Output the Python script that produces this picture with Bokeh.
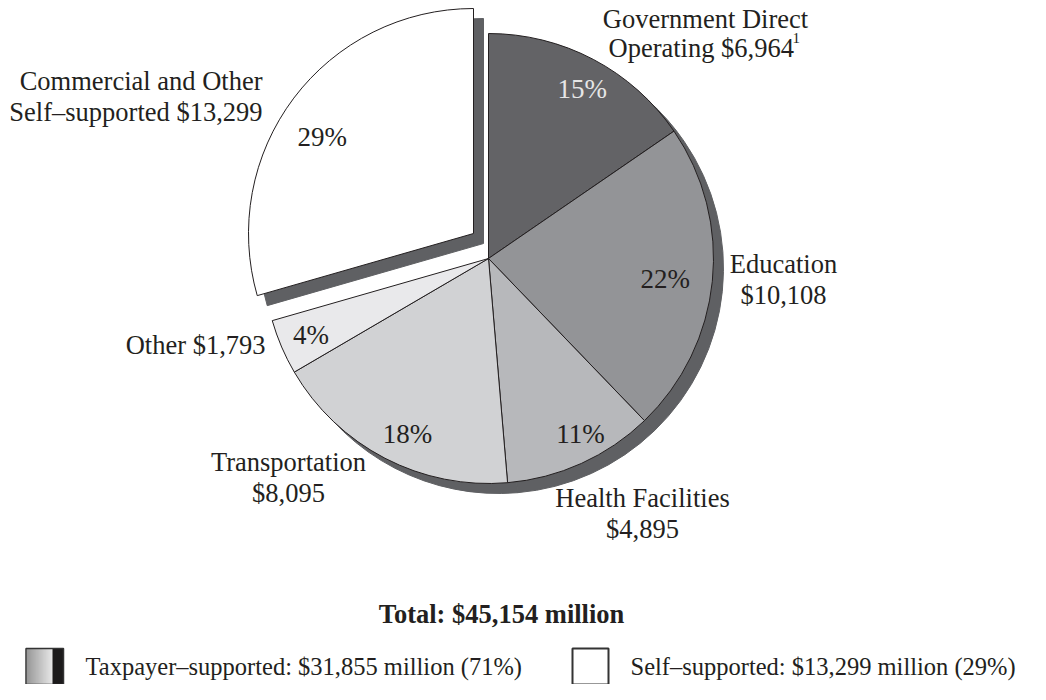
import numpy as np
from bokeh.plotting import figure
from bokeh.models import Range1d, ColumnDataSource
from bokeh.embed import file_html
from bokeh.resources import INLINE
from bokeh.core.properties import value

# ---------------- data ----------------
categories = ["Government Direct Operating", "Education", "Health Facilities",
              "Transportation", "Other", "Commercial and Other Self-supported"]
amounts = [6964, 10108, 4895, 8095, 1793, 13299]          # $ millions
pct_labels = ["15%", "22%", "11%", "18%", "4%", "29%"]
exploded = [False, False, False, False, False, True]
total_label = "Total: $45,154 million"
legend_labels = ["Taxpayer\u2013supported: $31,855 million (71%)",
                 "Self\u2013supported: $13,299 million (29%)"]

# ---------------- styles / layout ----------------
FONT = value("Liberation Serif")
TXT = "#231f20"
colors = ["#636366", "#939497", "#b7b8bb", "#d1d2d4", "#e9e9eb", "#ffffff"]
pct_colors = ["#e6e6e6", TXT, TXT, TXT, TXT, TXT]
label_r = [0.858, 0.791, 0.884, 0.862, 0.862, 0.796]
label_dtheta = [1.3, 1.0, -3.2, -2.7, -0.5, -4.6]   # degrees
SHADOW = "#5f6063"
BASE_SHIFT = 10   # rendered alphabetic baseline sits ~10px below anchor

W, H = 1030, 684


def Y(img_y):
    return H - img_y


def TY(img_baseline):
    return H - (img_baseline - BASE_SHIFT)


CX, CY, R = 488, Y(258), 225
EXPLODE = (-15, 25)
SHOFF = (10, -10)

p = figure(width=W, height=H, x_range=Range1d(0, W), y_range=Range1d(0, H),
           output_backend="svg", toolbar_location=None, min_border=0,
           x_axis_type=None, y_axis_type=None, background_fill_color="white",
           border_fill_color="white")
p.grid.visible = False
p.outline_line_color = None

vals = np.array(amounts, dtype=float)
frac = vals / vals.sum()
c1 = np.cumsum(frac)
c0 = c1 - frac
start = np.pi / 2 - 2 * np.pi * c0
end = np.pi / 2 - 2 * np.pi * c1
cx = np.array([CX + (EXPLODE[0] if e else 0) for e in exploded], dtype=float)
cy = np.array([CY + (EXPLODE[1] if e else 0) for e in exploded], dtype=float)

src = ColumnDataSource(dict(x=cx, y=cy, sx=cx + SHOFF[0], sy=cy + SHOFF[1],
                            start=start, end=end, color=colors, cat=categories))

# shadows
p.wedge(x="sx", y="sy", radius=R, start_angle="start", end_angle="end",
        direction="clock", fill_color=SHADOW, line_color=SHADOW, line_width=1,
        source=src)
# slices
p.wedge(x="x", y="y", radius=R, start_angle="start", end_angle="end",
        direction="clock", fill_color="color", line_color=TXT, line_width=1,
        source=src)

# percent labels (anchored so the digits are centred on the point)
theta = 2 * np.pi * (c0 + frac / 2) + np.radians(label_dtheta)
lr = np.array(label_r) * R
lx = cx + lr * np.sin(theta)
ly = cy + lr * np.cos(theta) + BASE_SHIFT - 9
p.text(x=lx, y=ly, text=pct_labels, text_color=pct_colors, text_font=FONT,
       text_font_size="27px", text_align="center", text_baseline="alphabetic")

# outer category labels (x, baseline, text, align)
outer = [
    (705, 28, "Government Direct", "center"),
    (608, 57, "Operating $6,964", "left"),
    (262, 90, "Commercial and Other", "right"),
    (262, 121, "Self\u2013supported $13,299", "right"),
    (783, 273, "Education", "center"),
    (783, 304, "$10,108", "center"),
    (265, 354, "Other $1,793", "right"),
    (288, 471, "Transportation", "center"),
    (288, 502, "$8,095", "center"),
    (642, 507, "Health Facilities", "center"),
    (642, 538, "$4,895", "center"),
]
for x, yb, t, al in outer:
    p.text(x=[x], y=[TY(yb)], text=[t], text_color=TXT, text_font=FONT,
           text_font_size="26.5px", text_align=al, text_baseline="alphabetic")
# footnote marker
p.text(x=[792], y=[TY(47)], text=["1"], text_color=TXT, text_font=FONT,
       text_font_size="15px", text_align="left", text_baseline="alphabetic")

# total
p.text(x=[501], y=[TY(623)], text=[total_label], text_color=TXT, text_font=FONT,
       text_font_size="26.5px", text_font_style="bold", text_align="center",
       text_baseline="alphabetic")

# legend (placed a little higher than the reference so that it is not cut off)
LT, LB = 648, 684
n = 26
gx = np.linspace(26, 52, n + 1)
shades = np.linspace(0x8c, 0xe4, n).astype(int)
gcols = ["#%02x%02x%02x" % (s, s, s) for s in shades]
p.quad(left=gx[:-1], right=gx[1:] + 0.3, top=Y(LT), bottom=Y(LB),
       fill_color=gcols, line_color=None)
p.quad(left=[52], right=[63], top=[Y(LT)], bottom=[Y(LB)],
       fill_color="#1c1a1b", line_color=None)
p.quad(left=[25.5], right=[63], top=[Y(LT)], bottom=[Y(LB)],
       fill_color=None, line_color="#333333", line_width=1.5)
p.quad(left=[572], right=[608], top=[Y(LT)], bottom=[Y(LB)],
       fill_color="white", line_color="#333333", line_width=2)

p.text(x=[85, 630], y=[TY(676), TY(676)], text=legend_labels, text_color=TXT,
       text_font=FONT, text_font_size="24.5px", text_align="left",
       text_baseline="alphabetic")

open("out.html", "w").write(file_html(p, INLINE))
